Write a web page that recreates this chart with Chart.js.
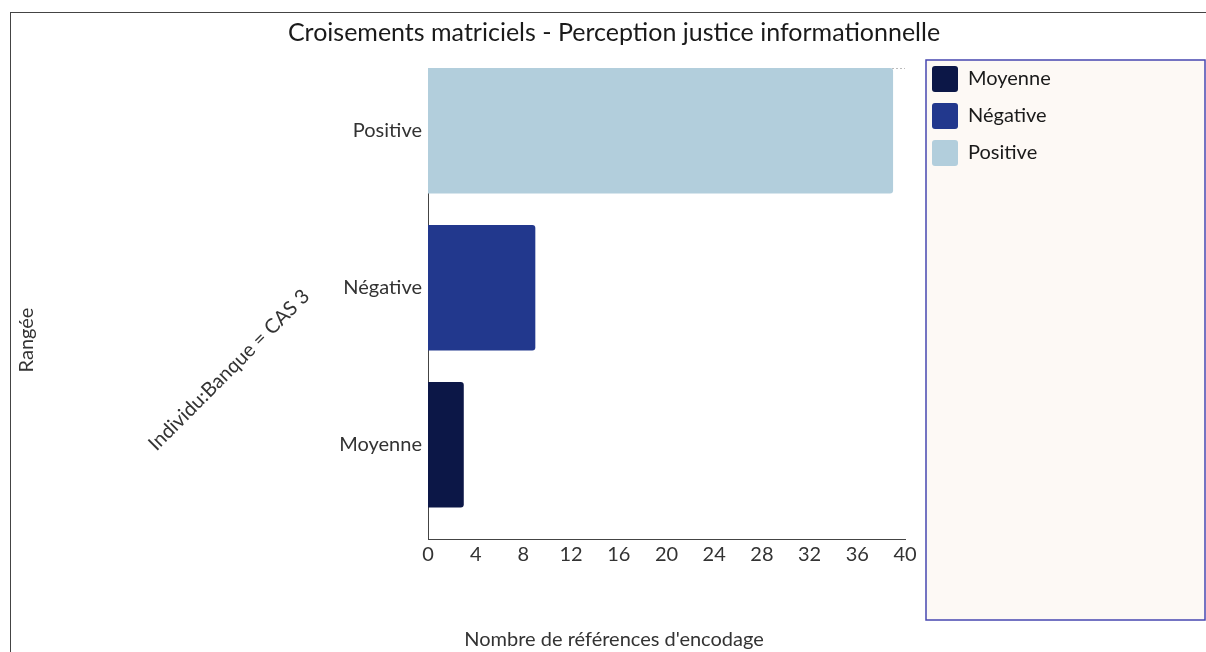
<!DOCTYPE html>
<html>
<head>
<meta charset="utf-8">
<script src="https://cdn.jsdelivr.net/npm/chart.js@4"></script>
<style>
  html, body { margin: 0; padding: 0; background: #fff; overflow: hidden; }
  #frame { position: absolute; left: 10px; top: 12px; width: 1300px; height: 700px; border: 1px solid #444; }
  #wrap { position: absolute; left: 0; top: 0; width: 1206px; height: 652px; }
</style>
</head>
<body>
<div id="frame"></div>
<div id="wrap"><canvas id="chart"></canvas></div>
<script>
/* ================= DATA ================= */
const categories = ["Moyenne", "Négative", "Positive"];
const counts = [3, 9, 39];
const colors = ["#0c1747", "#22388d", "#b2cedc"];
const xTicks = [0, 4, 8, 12, 16, 20, 24, 28, 32, 36, 40];

const chartTitle = "Croisements matriciels - Perception justice informationnelle";
const xTitle = "Nombre de références d'encodage";
const rowTitle = "Rangée";
const groupTitle = "Individu:Banque = CAS 3";

const FONT = "Lato, 'Noto Sans', sans-serif";

/* ================= DATASETS ================= */
const datasets = categories.map((c, i) => ({
  label: c,
  data: [{ x: counts[i], y: i }],
  backgroundColor: colors[i],
  borderWidth: 0,
  borderRadius: 3,
  borderSkipped: "start",
  grouped: false,
  categoryPercentage: 1,
  barPercentage: 0.8
}));

/* ================= EXTRA DRAWING ================= */
const extras = {
  id: "extras",
  beforeInit(chart) {
    const fit = chart.legend.fit;
    chart.legend.fit = function () {
      fit.call(this);
      this.width = 301;
    };
  },
  afterLayout(chart) {
    chart.legend.left += 16;
    chart.legend.top = chart.chartArea.top - 13;
  },
  beforeDraw(chart) {
    const ctx = chart.ctx;
    ctx.save();
    ctx.fillStyle = "#fdf9f5";
    ctx.strokeStyle = "#4747b0";
    ctx.lineWidth = 1.5;
    ctx.fillRect(926, 60, 279, 560);
    ctx.strokeRect(926, 60, 279, 560);
    ctx.restore();
  },
  beforeDatasetsDraw(chart) {
    const { ctx, chartArea } = chart;
    ctx.save();
    ctx.strokeStyle = "#bbb";
    ctx.setLineDash([2, 2]);
    ctx.lineWidth = 1;
    ctx.beginPath();
    ctx.moveTo(chartArea.left, chartArea.top + 0.5);
    ctx.lineTo(chartArea.right, chartArea.top + 0.5);
    ctx.stroke();
    ctx.restore();
  },
  afterDraw(chart) {
    const ctx = chart.ctx;
    ctx.save();
    ctx.fillStyle = "#333";
    ctx.font = "20px " + FONT;
    ctx.textAlign = "center";
    ctx.textBaseline = "middle";

    ctx.save();
    ctx.translate(27, 340);
    ctx.rotate(-Math.PI / 2);
    ctx.fillText(rowTitle, 0, 0);
    ctx.restore();

    ctx.save();
    ctx.translate(229, 370);
    ctx.rotate(-Math.PI / 4);
    ctx.fillText(groupTitle, 0, 0);
    ctx.restore();

    ctx.restore();
  }
};

/* ================= CHART ================= */
new Chart(document.getElementById("chart"), {
  type: "bar",
  data: { datasets },
  plugins: [extras],
  options: {
    indexAxis: "y",
    responsive: true,
    maintainAspectRatio: false,
    animation: false,
    layout: { padding: { left: 22, right: 0, top: 0, bottom: 0 } },
    scales: {
      x: {
        type: "linear",
        min: xTicks[0],
        max: xTicks[xTicks.length - 1],
        afterBuildTicks: s => { s.ticks = xTicks.map(v => ({ value: v })); },
        grid: { display: false, drawTicks: false },
        border: { display: true, color: "#444", width: 1 },
        ticks: { color: "#333", font: { family: FONT, size: 20 }, padding: 4 }
      },
      y: {
        type: "linear",
        offset: false,
        min: -0.6,
        max: 2.4,
        afterBuildTicks: s => { s.ticks = categories.map((c, i) => ({ value: i })); },
        afterFit: s => { s.width = 406; },
        grid: { display: false, drawTicks: false },
        border: { display: true, color: "#444", width: 1 },
        ticks: {
          color: "#333",
          font: { family: FONT, size: 20 },
          padding: 6,
          callback: v => categories[v]
        }
      }
    },
    plugins: {
      title: {
        display: true,
        text: chartTitle,
        color: "#1a1a1a",
        font: { family: FONT, size: 25, weight: "normal" },
        padding: { top: 18, bottom: 20 }
      },
      subtitle: {
        display: true,
        position: "bottom",
        text: xTitle,
        color: "#333",
        font: { family: FONT, size: 20, weight: "normal" },
        padding: { top: 57, bottom: 0 }
      },
      legend: {
        display: true,
        position: "right",
        align: "start",
        fullSize: false,
        labels: {
          boxWidth: 26,
          boxHeight: 26,
          padding: 11,
          useBorderRadius: true,
          borderRadius: 3,
          color: "#1a1a1a",
          font: { family: FONT, size: 20 }
        }
      },
      tooltip: { enabled: false }
    }
  }
});
</script>
</body>
</html>
